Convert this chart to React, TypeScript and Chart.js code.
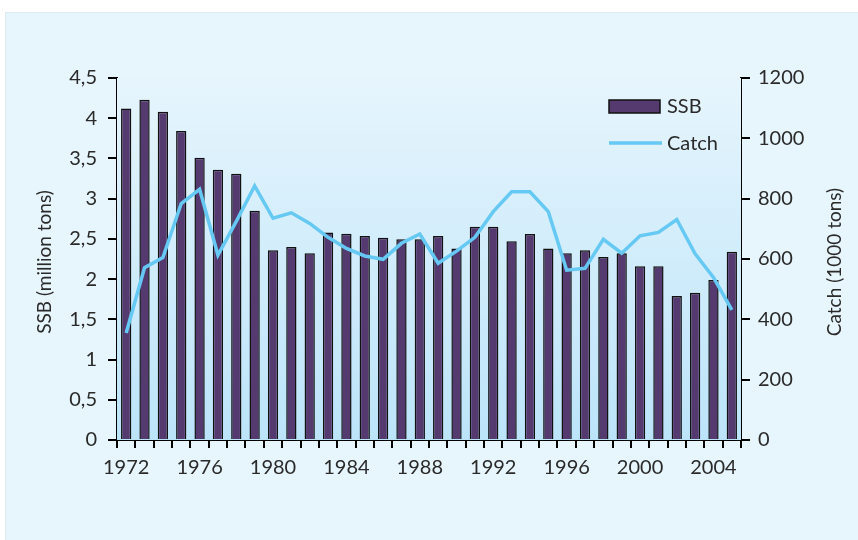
import React, { useEffect, useRef } from "react";
import { Chart, registerables } from "chart.js";

Chart.register(...registerables);

const years = [
  "1972", "1973", "1974", "1975", "1976", "1977", "1978", "1979", "1980", "1981",
  "1982", "1983", "1984", "1985", "1986", "1987", "1988", "1989", "1990", "1991",
  "1992", "1993", "1994", "1995", "1996", "1997", "1998", "1999", "2000", "2001",
  "2002", "2003", "2004", "2005",
];
const ssb = [
  4.12, 4.23, 4.08, 3.84, 3.51, 3.36, 3.31, 2.85, 2.36, 2.4,
  2.32, 2.58, 2.565, 2.535, 2.515, 2.495, 2.495, 2.535, 2.38, 2.65,
  2.65, 2.47, 2.56, 2.38, 2.32, 2.36, 2.275, 2.32, 2.16, 2.16,
  1.79, 1.83, 1.99, 2.34,
];
const catchTons = [
  355, 571, 605, 784, 831, 613, 725, 842, 735, 753,
  718, 672, 635, 610, 599, 652, 683, 586, 626, 672,
  757, 823, 823, 757, 563, 569, 665, 619, 677, 688,
  731, 617, 539, 431,
];
const shownYearLabels = ["1972", "1976", "1980", "1984", "1988", "1992", "1996", "2000", "2004"];
const seriesNames = ["SSB", "Catch"];
const leftTitle = "SSB (million tons)";
const rightTitle = "Catch (1000 tons)";

const FONT = "Lato, 'Open Sans', sans-serif";
const TEXT = "#2a2a2a";
const BAR = "#543a6f";
const LINE = "#66c9f3";

const gradientPlugin = {
  id: "plotGradient",
  beforeDatasetsDraw(chart: any) {
    const { ctx, chartArea } = chart;
    const g = ctx.createLinearGradient(0, chartArea.top, 0, chartArea.bottom);
    g.addColorStop(0, "#e6f5fd");
    g.addColorStop(1, "#bce4f9");
    ctx.save();
    ctx.fillStyle = g;
    ctx.fillRect(chartArea.left, chartArea.top, chartArea.right - chartArea.left, chartArea.bottom - chartArea.top);
    ctx.restore();
  },
};

const decorPlugin = {
  id: "decor",
  afterDraw(chart: any) {
    const { ctx, chartArea } = chart;
    const midY = (chartArea.top + chartArea.bottom) / 2 + 3;
    ctx.save();
    ctx.fillStyle = TEXT;
    ctx.font = `19px ${FONT}`;
    ctx.textAlign = "center";
    ctx.textBaseline = "middle";
    ctx.save();
    ctx.translate(chartArea.left - 72, midY);
    ctx.rotate(-Math.PI / 2);
    ctx.fillText(leftTitle, 0, 0);
    ctx.restore();
    ctx.save();
    ctx.translate(chartArea.right + 94, midY);
    ctx.rotate(-Math.PI / 2);
    ctx.fillText(rightTitle, 0, 0);
    ctx.restore();

    const lx = chartArea.right - 132;
    const ly = chartArea.top + 22;
    ctx.fillStyle = BAR;
    ctx.fillRect(lx, ly, 51, 13);
    ctx.strokeStyle = "#111";
    ctx.lineWidth = 1.5;
    ctx.strokeRect(lx, ly, 51, 13);
    ctx.beginPath();
    ctx.strokeStyle = LINE;
    ctx.lineWidth = 3.5;
    ctx.moveTo(lx, ly + 43);
    ctx.lineTo(lx + 53, ly + 43);
    ctx.stroke();
    ctx.fillStyle = TEXT;
    ctx.font = `20px ${FONT}`;
    ctx.textAlign = "left";
    ctx.fillText(seriesNames[0], lx + 58, ly + 7);
    ctx.fillText(seriesNames[1], lx + 58, ly + 44);
    ctx.restore();
  },
};

export default function App() {
  const ref = useRef<HTMLCanvasElement | null>(null);

  useEffect(() => {
    if (!ref.current) return;
    const tickFont = { family: FONT, size: 20 };
    const chart = new Chart(ref.current, {
      type: "bar",
      data: {
        labels: years,
        datasets: [
          {
            type: "line",
            label: seriesNames[1],
            data: catchTons,
            yAxisID: "y1",
            borderColor: LINE,
            borderWidth: 3.5,
            pointRadius: 0,
            tension: 0,
            order: 0,
          } as any,
          {
            type: "bar",
            label: seriesNames[0],
            data: ssb,
            yAxisID: "y",
            backgroundColor: BAR,
            borderColor: "#111",
            borderWidth: 1.5,
            categoryPercentage: 1,
            barPercentage: 0.56,
            order: 1,
          },
        ],
      },
      options: {
        responsive: false,
        animation: false,
        layout: { padding: { top: 78, left: 0, right: 0, bottom: 0 } },
        plugins: { legend: { display: false }, tooltip: { enabled: false } },
        scales: {
          x: {
            offset: true,
            grid: { offset: true, drawOnChartArea: false, drawTicks: true, tickLength: 8, color: "#000", lineWidth: 2 },
            border: { display: true, color: "#000", width: 2 },
            ticks: {
              autoSkip: false,
              maxRotation: 0,
              minRotation: 0,
              padding: 8,
              color: TEXT,
              font: tickFont,
              callback: (_v: any, i: number) => (shownYearLabels.includes(years[i]) ? years[i] : ""),
            },
            afterFit: (s: any) => {
              s.height = 100;
            },
          },
          y: {
            position: "left",
            min: 0,
            max: 4.5,
            grid: { drawOnChartArea: false, drawTicks: true, tickLength: 9, color: "#000", lineWidth: 2 },
            border: { display: true, color: "#000", width: 2 },
            ticks: {
              stepSize: 0.5,
              padding: 11,
              color: TEXT,
              font: tickFont,
              callback: (v: any) => String(v).replace(".", ","),
            },
            afterFit: (s: any) => {
              s.width = 117;
            },
          },
          y1: {
            position: "right",
            min: 0,
            max: 1200,
            grid: { drawOnChartArea: false, drawTicks: true, tickLength: 9, color: "#000", lineWidth: 2 },
            border: { display: true, color: "#000", width: 2 },
            ticks: {
              stepSize: 200,
              padding: 8,
              color: TEXT,
              font: tickFont,
              callback: (v: any) => String(v),
            },
            afterFit: (s: any) => {
              s.width = 117;
            },
          },
        },
      },
      plugins: [gradientPlugin, decorPlugin],
    });
    return () => chart.destroy();
  }, []);

  return (
    <div style={{ position: "fixed", left: 0, top: 0, width: 858, height: 540, background: "#fff", overflow: "hidden" }}>
      <div
        style={{
          position: "absolute",
          left: 5,
          top: 12,
          right: 0,
          bottom: 0,
          background: "#e7f5fd",
          borderTop: "1px solid #dfeaf0",
          borderLeft: "1px solid #dfeaf0",
        }}
      />
      <canvas ref={ref} width={858} height={540} style={{ position: "absolute", left: 0, top: 0 }} />
    </div>
  );
}
